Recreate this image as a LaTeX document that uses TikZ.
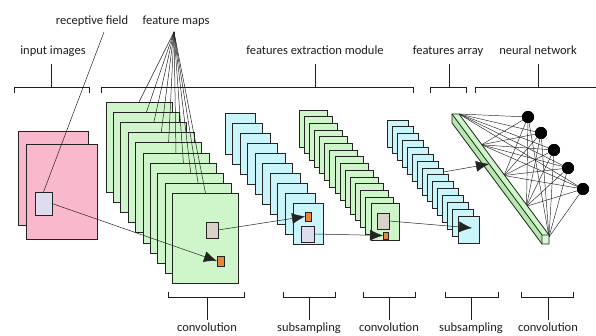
\documentclass[tikz,border=0pt]{standalone}
\usepackage{fontspec}
\setmainfont{Carlito}
\usetikzlibrary{arrows.meta}
\definecolor{pinkf}{RGB}{250,184,204}
\definecolor{greenf}{RGB}{206,246,202}
\definecolor{greenm}{RGB}{180,232,172}
\definecolor{cyanf}{RGB}{202,245,250}
\definecolor{lavf}{RGB}{224,220,240}
\definecolor{grayf}{RGB}{218,210,200}
\definecolor{orangef}{RGB}{232,134,60}
\definecolor{edge}{RGB}{35,35,35}
\definecolor{txt}{RGB}{30,30,30}
\begin{document}
\begin{tikzpicture}[x=1pt,y=-1pt,
  lbl/.style={font=\fontsize{12.5}{14}\selectfont, text=txt, inner sep=0pt, anchor=base},
  mapbox/.style={draw=edge, line width=0.9pt, anchor=north west, inner sep=0pt, outer sep=0pt},
  sq/.style={draw=edge, line width=0.8pt, anchor=north west, inner sep=0pt, outer sep=0pt},
  brk/.style={draw=txt, line width=0.6pt},
  conn/.style={draw=edge, line width=0.5pt},
  arr/.style={conn, -{Latex[length=13pt,width=11pt]}},
  neuron/.style={circle, fill=black, minimum size=12pt, inner sep=0pt}]
\useasboundingbox[fill=white] (0,0) rectangle (596,336);

% ---- labels top ----
\node[lbl] (rfl) at (92,25) {receptive field};
\node[lbl] (fml) at (176,25) {feature maps};
\node[lbl] (inl) at (53,55) {input images};
\node[lbl] (fel) at (315,55) {features extraction module};
\node[lbl] (fal) at (448,55) {features array};
\node[lbl] (nnl) at (538,55) {neural network};

% ---- top brackets ----
\draw[brk] (14,93) -- (14,87) -- (89,87) -- (89,93);
\draw[brk] (51,64) -- (51,87);
\draw[brk] (101,93) -- (101,87) -- (413,87) -- (413,93);
\draw[brk] (315,64) -- (315,87);
\draw[brk] (430,93) -- (430,87) -- (466,87) -- (466,93);
\draw[brk] (449,64) -- (449,87);
\draw[brk] (475,93) -- (475,87) -- (596,87);
\draw[brk] (538,64) -- (538,87);

% ---- bottom brackets and labels ----
\foreach \a/\b/\m/\t/\n in {168/244/207/convolution/b1,283/335/309/subsampling/b2,363/415/389/convolution/b3,445/498/471/subsampling/b4,521/573/548/convolution/b5}{
  \draw[brk] (\a,292) -- (\a,297) -- (\b,297) -- (\b,292);
  \draw[brk] (\m,297) -- (\m,320);
  \node[lbl] (\n) at (\m,331.5) {\t};
}

% ---- input images ----
\node[mapbox, fill=pinkf, minimum width=70pt, minimum height=94pt] (in1) at (18,131) {};
\node[mapbox, fill=pinkf, minimum width=71pt, minimum height=95pt] (in2) at (26,144) {};
\node[sq, fill=lavf, minimum width=17pt, minimum height=23pt] (rf) at (35,192) {};

% ---- convolution 1 ----
\foreach \i in {0,...,9}
  \node[mapbox, fill=greenf, minimum width=66pt, minimum height=90pt] (c1-\i) at ({106+7.4*\i},{102+10.2*\i}) {};
\coordinate (apex) at (174,32);
\foreach \i in {0,...,9} \draw[conn] (apex) -- (c1-\i.north);
\coordinate (rfa) at (104,32);
\draw[conn] (rfa) -- (rf.north);
\node[sq, fill=grayf, minimum width=12pt, minimum height=16pt] (g1) at (206,222) {};
\node[sq, fill=orangef, minimum width=7pt, minimum height=10pt] (o1) at (217,256) {};

% ---- subsampling 1 ----
\foreach \i in {0,...,9}
  \node[mapbox, fill=cyanf, minimum width=30pt, minimum height=41pt] (s1-\i) at ({225+7.55*\i},{113+10.1*\i}) {};
\node[sq, fill=orangef, minimum width=6pt, minimum height=9pt] (o2) at (305,212) {};
\node[sq, fill=lavf, minimum width=13pt, minimum height=16pt] (l2) at (301,226) {};

% ---- convolution 2 ----
\foreach \i in {0,...,14}
  \node[mapbox, fill=greenf, minimum width=28pt, minimum height=37pt] (c2-\i) at ({299+5.14*\i},{110+6.7*\i}) {};
\node[sq, fill=grayf, minimum width=12pt, minimum height=16pt] (g3) at (377,213) {};
\node[sq, fill=orangef, minimum width=5pt, minimum height=7pt] (o3) at (383,232) {};

% ---- subsampling 2 ----
\foreach \i in {0,...,14}
  \node[mapbox, fill=cyanf, minimum width=21pt, minimum height=27pt] (s2-\i) at ({387+5.07*\i},{120+6.86*\i}) {};

% ---- arrows ----
\draw[arr] (rf.east) -- (o1.west);
\draw[arr] (g1.east) -- (o2.west);
\draw[arr] (l2.east) -- (o3.west);
\coordinate (t4) at (472,228);
\draw[arr] (g3.east) -- (t4);

% ---- neural network ----
\coordinate (q0) at (452,114);
\coordinate (q1) at (459,114);
\coordinate (q2) at (549,235);
\coordinate (q3) at (542,235);
\coordinate (q4) at (542,244);
\coordinate (q5) at (452,123);
\coordinate (q6) at (549,244);
\node[neuron] (n1) at (528,117) {};
\node[neuron] (n2) at (541,133) {};
\node[neuron] (n3) at (554,150) {};
\node[neuron] (n4) at (568,168) {};
\node[neuron] (n5) at (583,189) {};
\foreach \k in {0,...,4} {
  \coordinate (p\k) at ({459+22.5*\k},{114+30.75*\k});
  \foreach \n in {n1,n2,n3,n4,n5} \draw[conn, line width=0.45pt] (p\k) -- (\n.center);
}
\fill[greenf] (q0) -- (q1) -- (q2) -- (q3) -- cycle;
\fill[greenm] (q0) -- (q3) -- (q4) -- (q5) -- cycle;
\fill[greenf!70!white] (q3) -- (q2) -- (q6) -- (q4) -- cycle;
\draw[edge, line width=0.8pt, line join=round] (q0) -- (q1) -- (q2) -- (q6) -- (q4) -- (q5) -- cycle;
\draw[edge, line width=0.8pt] (q0) -- (q3) -- (q2) (q3) -- (q4);
\foreach \n in {n1,n2,n3,n4,n5} \node[neuron] at (\n) {};
\coordinate (a5s) at (443.5,172);
\coordinate (bt) at (489,164);
\draw[arr] (a5s) -- (bt);
\end{tikzpicture}
\end{document}
